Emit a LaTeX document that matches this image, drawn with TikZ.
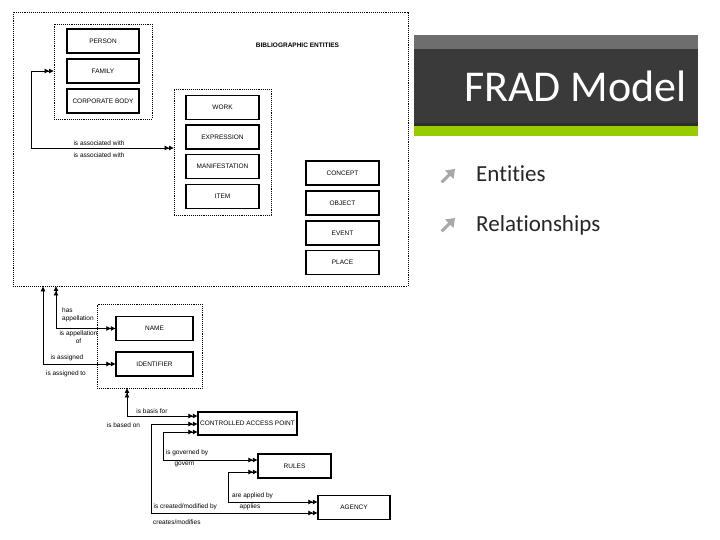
\documentclass[tikz,border=0pt]{standalone}
\usepackage{fontspec}
\setmainfont{Liberation Sans}
\newfontfamily\carlito{Carlito}[Ligatures={NoCommon}]
\usetikzlibrary{arrows.meta}
\definecolor{bandgray}{HTML}{6E6E6E}
\definecolor{banddark}{HTML}{3A3A3A}
\definecolor{bandline}{HTML}{2E2E2E}
\definecolor{bandgreen}{HTML}{99CC00}
\definecolor{textdark}{HTML}{262626}
\definecolor{bulletgray}{HTML}{A8A8A8}
\tikzset{
  both/.style={arrows={Triangle[length=4.5pt,width=4.5pt]Triangle[length=4.5pt,width=4.5pt]-Triangle[length=4.5pt,width=4.5pt]Triangle[length=4.5pt,width=4.5pt]}},
  dblsgl/.style={arrows={Triangle[length=4.5pt,width=4.5pt]Triangle[length=4.5pt,width=4.5pt]-Triangle[length=5pt,width=4.5pt]}},
  ent/.style={draw, line width=1.4pt, minimum height=24pt, minimum width=73pt, inner sep=0pt, font=\fontsize{6.5}{8}\selectfont},
  grp/.style={draw, densely dotted, line width=0.9pt},
  lbl/.style={font=\fontsize{6.5}{8}\selectfont, inner sep=0pt, align=center},
  conn/.style={line width=0.8pt},
  bullet/.style={fill=bulletgray}
}
\begin{document}
\begin{tikzpicture}[x=1pt,y=-1pt]
\useasboundingbox (0,0) rectangle (720,540);
\fill[white] (0,0) rectangle (720,540);

% ---------- slide title area ----------
\fill[bandgray] (414,35) rectangle (698,49);
\fill[banddark] (414,49) rectangle (698,123);
\fill[bandline] (414,123) rectangle (698,126);
\fill[bandgreen] (414,126) rectangle (698,136);
\node[anchor=base east, text=white, inner sep=0pt, font=\carlito\fontsize{44}{44}\selectfont] (title) at (687,102) {FRAD Model};
\node[anchor=base west, text=textdark, inner sep=0pt, font=\carlito\fontsize{23}{23}\selectfont] (b1) at (476,182) {Entities};
\node[anchor=base west, text=textdark, inner sep=0pt, font=\carlito\fontsize{23}{23}\selectfont] (b2) at (476,231) {Relationships};
% bullet arrows
\foreach \by in {169,218}{
  \begin{scope}[shift={(440,\by)}]
    \fill[bullet] (15,0) -- (5,1.5) -- (8.2,4.6) -- (0.6,12.2) -- (2.8,14.4) -- (10.4,6.8) -- (13.5,10) -- cycle;
  \end{scope}
}

% ---------- groups ----------
\node[grp, minimum width=395pt, minimum height=274pt] (outer) at (210.5,149) {};
\node[grp, minimum width=98pt, minimum height=95pt] (pgroup) at (103,71.5) {};
\node[grp, minimum width=97pt, minimum height=126pt] (wgroup) at (222.5,152) {};
\node[grp, minimum width=105pt, minimum height=84pt] (ngroup) at (149.5,346) {};
\node[font=\bfseries\fontsize{6.5}{8}\selectfont, inner sep=0pt] (biblabel) at (297.5,45) {BIBLIOGRAPHIC ENTITIES};

% ---------- entities ----------
\node[ent, minimum width=72pt] (person) at (103,41) {PERSON};
\node[ent, minimum width=72pt] (family) at (103,71) {FAMILY};
\node[ent, minimum width=72pt] (corp) at (103,101) {CORPORATE BODY};
\node[ent] (work) at (222.5,107.5) {WORK};
\node[ent] (expr) at (222.5,137) {EXPRESSION};
\node[ent] (manif) at (222.5,166.5) {MANIFESTATION};
\node[ent] (item) at (222.5,196.5) {ITEM};
\node[ent] (concept) at (342.5,173) {CONCEPT};
\node[ent] (object) at (342.5,203) {OBJECT};
\node[ent] (event) at (342.5,233) {EVENT};
\node[ent] (place) at (342.5,262.5) {PLACE};
\node[ent, minimum width=77pt] (name) at (154.5,328.5) {NAME};
\node[ent, minimum width=77pt] (ident) at (154.5,364) {IDENTIFIER};
\node[ent, minimum width=99pt, minimum height=23pt] (cap) at (247.5,423.5) {CONTROLLED ACCESS POINT};
\node[ent] (rules) at (294.5,466) {RULES};
\node[ent, minimum width=72pt] (agency) at (354,507.5) {AGENCY};

% ---------- connectors ----------
\coordinate (a1) at (31,71);
\coordinate (a2) at (31,148);
\draw[conn, both] (pgroup.west |- a1) -- (a1) -- (a2) -- (wgroup.west |- a2);
\node[lbl] (l1) at (99,143) {is associated with};
\node[lbl] (l2) at (99,155) {is associated with};

\coordinate (n1) at (56,328.5);
\draw[conn, both] (name.west) -- (n1) -- (n1 |- outer.south);
\coordinate (i1) at (43,364);
\draw[conn, dblsgl] (ident.west) -- (i1) -- (i1 |- outer.south);
\node[lbl, align=left, anchor=west] (l3) at (62,315) {has\\appellation};
\node[lbl] (l4) at (78.5,337) {is appellation\\of};
\node[lbl] (l5) at (67,358) {is assigned};
\node[lbl] (l6) at (66,374) {is assigned to};

\coordinate (c1) at (127,416);
\draw[conn, both] (cap.west |- c1) -- (c1) -- (c1 |- ngroup.south);
\node[lbl] (l7) at (152,411) {is basis for};
\node[lbl] (l8) at (123.5,425) {is based on};

\coordinate (c2) at (151,424);
\coordinate (c2b) at (151,513);
\draw[conn, both] (cap.west |- c2) -- (c2) -- (c2b) -- (agency.west |- c2b);
\node[lbl, anchor=west] (l9) at (153.5,507) {is created/modified by};
\node[lbl, anchor=west] (l10) at (153,522) {creates/modifies};

\coordinate (c3) at (163,432);
\coordinate (c3b) at (163,460);
\draw[conn, both] (cap.west |- c3) -- (c3) -- (c3b) -- (rules.west |- c3b);
\node[lbl] (l11) at (187,453) {is governed by};
\node[lbl] (l12) at (184.5,464) {govern};

\coordinate (r1) at (228,472);
\coordinate (r1b) at (228,502);
\draw[conn, both] (rules.west |- r1) -- (r1) -- (r1b) -- (agency.west |- r1b);
\node[lbl] (l13) at (252.5,496) {are applied by};
\node[lbl] (l14) at (250,507) {applies};
\end{tikzpicture}
\end{document}
